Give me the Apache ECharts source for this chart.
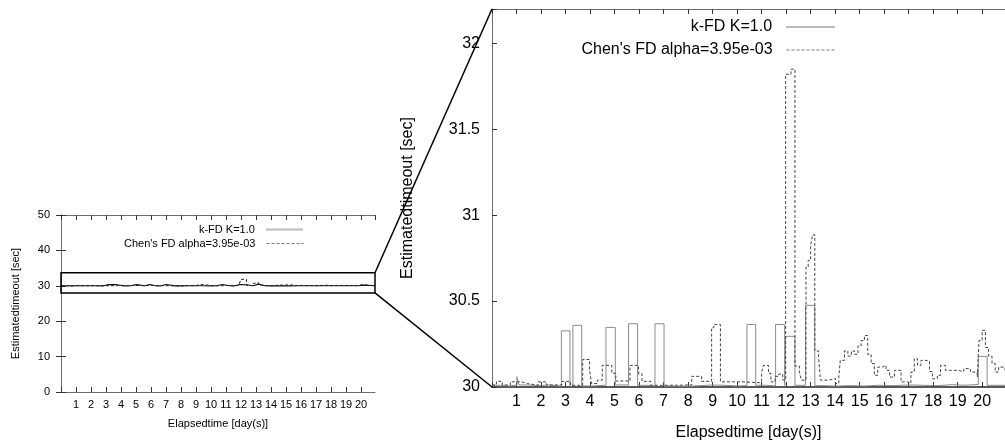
<!DOCTYPE html>
<html>
<head>
<meta charset="utf-8">
<script src="https://cdn.jsdelivr.net/npm/echarts@6/dist/echarts.min.js"></script>
<style>html,body{margin:0;padding:0;background:#fff;}#c{width:1005px;height:446px;}</style>
</head>
<body>
<div id="c"></div>
<script>
// ---- data ----
const dayTicks = [1,2,3,4,5,6,7,8,9,10,11,12,13,14,15,16,17,18,19,20];
const kfdName = 'k-FD K=1.0';
const chenName = "Chen's FD alpha=3.95e-03";
const kfdDays = [0.00,0.35,0.70,1.02,1.10,1.50,1.90,2.30,2.83,3.18,3.30,3.66,4.10,4.65,5.03,5.57,5.94,6.30,6.65,7.02,7.60,8.00,8.50,9.00,9.50,10.00,10.40,10.76,11.20,11.57,11.94,11.98,12.36,12.79,13.17,13.60,14.00,14.60,15.20,15.80,16.40,17.00,17.60,18.20,18.80,19.30,19.84,20.20,20.93];
const kfdValues = [30.010,30.006,30.012,30.060,30.012,30.008,30.012,30.005,30.327,30.005,30.359,30.006,30.010,30.347,30.012,30.368,30.010,30.006,30.368,30.005,30.004,30.008,30.012,30.010,30.006,30.008,30.364,30.010,30.006,30.364,30.010,30.295,30.010,30.475,30.008,30.005,30.008,30.006,30.010,30.008,30.012,30.010,30.008,30.014,30.010,30.015,30.178,30.010,30.012];
const chenDays = [0.00,0.18,0.42,0.75,1.20,1.45,1.88,2.22,2.85,3.20,3.70,3.98,4.06,4.30,4.50,4.89,5.05,5.63,5.98,6.12,6.48,7.50,8.15,8.55,8.96,9.05,9.32,10.20,10.90,11.00,11.08,11.28,11.38,11.55,11.70,11.86,11.98,12.20,12.36,12.54,12.62,12.81,12.90,13.00,13.08,13.17,13.32,13.40,13.75,14.02,14.15,14.21,14.38,14.52,14.66,14.79,14.93,15.06,15.20,15.33,15.47,15.60,15.74,15.94,16.08,16.22,16.42,16.69,16.96,17.09,17.23,17.36,17.50,17.70,17.85,17.97,18.17,18.30,18.50,18.70,18.98,19.25,19.52,19.80,19.87,20.00,20.13,20.26,20.40,20.53,20.67,20.93];
const chenValues = [30.012,30.033,30.012,30.030,30.020,30.010,30.030,30.012,30.033,30.010,30.160,30.100,30.020,30.040,30.126,30.080,30.035,30.126,30.077,30.033,30.010,30.012,30.062,30.033,30.345,30.364,30.030,30.025,30.030,30.087,30.126,30.080,30.030,30.062,30.075,30.040,31.820,31.850,30.122,30.087,30.040,30.700,30.737,30.820,30.886,30.210,30.180,30.040,30.050,30.020,30.058,30.155,30.210,30.180,30.210,30.190,30.240,30.270,30.300,30.190,30.136,30.068,30.116,30.126,30.097,30.058,30.097,30.030,30.020,30.087,30.165,30.126,30.155,30.150,30.090,30.048,30.068,30.126,30.097,30.097,30.090,30.107,30.087,30.058,30.270,30.330,30.230,30.180,30.136,30.087,30.116,30.090];
const xMax = 20.93;
const overviewYMax = 50;
const zoomYMin = 30, zoomYMax = 32.2;
const zoomBoxLow = 28.0, zoomBoxHigh = 33.7;

// ---- build ----
const pairs = (xs, ys) => xs.map((x, i) => [x, ys[i]]);
const kfdData = pairs(kfdDays, kfdValues);
const chenData = pairs(chenDays, chenValues);
const FONT = 'Liberation Sans';
const BORDER = '#6e6e6e';

function dayLabel(v){ return dayTicks.indexOf(v) >= 0 ? String(v) : ''; }

function xAx(grid, fs, pos, labels, nameGap, lineColor){
  return {
    type:'value', gridIndex:grid, min:0, max:xMax, interval:1, position:pos,
    name: labels ? 'Elapsedtime [day(s)]' : '', nameLocation:'middle', nameGap:nameGap,
    nameTextStyle:{fontFamily:FONT, fontSize:fs, color:'#000'},
    axisLine:{show:true, onZero:false, lineStyle:{color:lineColor || BORDER, width:lineColor ? 1.5 : 1}},
    axisTick:{show:true, inside:true, length:5, lineStyle:{color:'#333'}},
    axisLabel:{show:labels, formatter:dayLabel, fontFamily:FONT, fontSize:fs, color:'#000', margin:7, showMaxLabel:false},
    splitLine:{show:false}
  };
}

function legendItem(name, color, width, type){
  return {name:name, lineStyle:{color:color, width:width, type:type}, itemStyle:{opacity:0}};
}

const option = {
  animation:false,
  backgroundColor:'#fff',
  grid:[
    {left:61, right:630, top:215, bottom:54, containLabel:false},
    {left:492, right:-2, top:9, bottom:56, containLabel:false}
  ],
  xAxis:[
    xAx(0, 11, 'bottom', true, 26),
    xAx(0, 11, 'top', false, 0),
    xAx(1, 16, 'bottom', true, 38, '#222'),
    xAx(1, 16, 'top', false, 0)
  ],
  yAxis:[
    {type:'value', gridIndex:0, min:0, max:overviewYMax, interval:10,
      name:'Estimatedtimeout [sec]', nameLocation:'middle', nameGap:40,
      nameTextStyle:{fontFamily:FONT, fontSize:11, color:'#000'},
      axisLine:{show:true, lineStyle:{color:BORDER}},
      axisTick:{show:true, inside:true, length:5, lineStyle:{color:'#333'}},
      axisLabel:{fontFamily:FONT, fontSize:11, color:'#000', margin:11},
      splitLine:{show:false}},
    {type:'value', gridIndex:0, min:0, max:overviewYMax, interval:10, position:'right',
      axisLine:{show:true, lineStyle:{color:BORDER}},
      axisTick:{show:true, inside:true, length:5, lineStyle:{color:'#333'}},
      axisLabel:{show:false}, splitLine:{show:false}},
    {type:'value', gridIndex:1, min:zoomYMin, max:zoomYMax, interval:0.5,
      name:'Estimatedtimeout [sec]', nameLocation:'middle', nameGap:76,
      nameTextStyle:{fontFamily:FONT, fontSize:16, color:'#000'},
      axisLine:{show:true, lineStyle:{color:BORDER}},
      axisTick:{show:true, inside:true, length:5, lineStyle:{color:'#333'}},
      axisLabel:{fontFamily:FONT, fontSize:16, color:'#000', margin:12,
        formatter:v => v > 32.01 ? '' : String(v)},
      splitLine:{show:false}}
  ],
  legend:[
    {data:[legendItem(kfdName, '#bbbbbb', 2, 'solid')], align:'right', right:701, top:224, itemWidth:37, itemHeight:10, padding:0, selectedMode:false,
      formatter:n => n + '  ', textStyle:{fontFamily:FONT, fontSize:11, color:'#000'}},
    {data:[legendItem(chenName, '#777', 1, [3,2])], align:'right', right:701, top:238, itemWidth:37, itemHeight:10, padding:0, selectedMode:false,
      formatter:n => n + '  ', textStyle:{fontFamily:FONT, fontSize:11, color:'#000'}},
    {data:[legendItem(kfdName, '#bbbbbb', 2, 'solid')], align:'right', right:169, top:19, itemWidth:49, itemHeight:14, padding:0, selectedMode:false,
      formatter:n => n + '  ', textStyle:{fontFamily:FONT, fontSize:16, color:'#000'}},
    {data:[legendItem(chenName, '#777', 1, [3,2])], align:'right', right:169, top:42, itemWidth:49, itemHeight:14, padding:0, selectedMode:false,
      formatter:n => n + '  ', textStyle:{fontFamily:FONT, fontSize:16, color:'#000'}}
  ],
  series:[
    {name:kfdName, type:'line', xAxisIndex:0, yAxisIndex:0, data:kfdData, step:'end', symbol:'none',
      lineStyle:{color:'#111', width:1.2}, itemStyle:{color:'#bbb'}},
    {name:chenName, type:'line', xAxisIndex:0, yAxisIndex:0, data:chenData, step:'end', symbol:'none',
      lineStyle:{color:'#222', width:1, type:[3,2]}, itemStyle:{color:'#777'}},
    {name:kfdName, type:'line', xAxisIndex:2, yAxisIndex:2, data:kfdData, step:'end', symbol:'none',
      lineStyle:{color:'#8a8a8a', width:1}, itemStyle:{color:'#bbb'}},
    {name:chenName, type:'line', xAxisIndex:2, yAxisIndex:2, data:chenData, step:'end', symbol:'none',
      lineStyle:{color:'#444', width:1, type:[3,2]}, itemStyle:{color:'#777'}}
  ]
};

const chart = echarts.init(document.getElementById('c'), null, {renderer:'canvas'});
chart.setOption(option);

// zoom box and connector lines, positioned through the axes
const boxTL = chart.convertToPixel({gridIndex:0}, [0, zoomBoxHigh]);
const boxBR = chart.convertToPixel({gridIndex:0}, [xMax, zoomBoxLow]);
const boxTR = chart.convertToPixel({gridIndex:0}, [xMax, zoomBoxHigh]);
const zTop = chart.convertToPixel({gridIndex:1}, [0, zoomYMax]);
const zBot = chart.convertToPixel({gridIndex:1}, [0, zoomYMin]);
chart.setOption({
  graphic:[
    {type:'rect', shape:{x:boxTL[0], y:boxTL[1], width:boxBR[0]-boxTL[0], height:boxBR[1]-boxTL[1]},
      style:{fill:'none', stroke:'#000', lineWidth:1.5}, z:100},
    {type:'line', shape:{x1:boxTR[0], y1:boxTR[1], x2:zTop[0], y2:zTop[1]}, style:{stroke:'#000', lineWidth:1.5}, z:100},
    {type:'line', shape:{x1:boxBR[0], y1:boxBR[1], x2:zBot[0], y2:zBot[1]}, style:{stroke:'#000', lineWidth:1.5}, z:100}
  ]
});
</script>
</body>
</html>
